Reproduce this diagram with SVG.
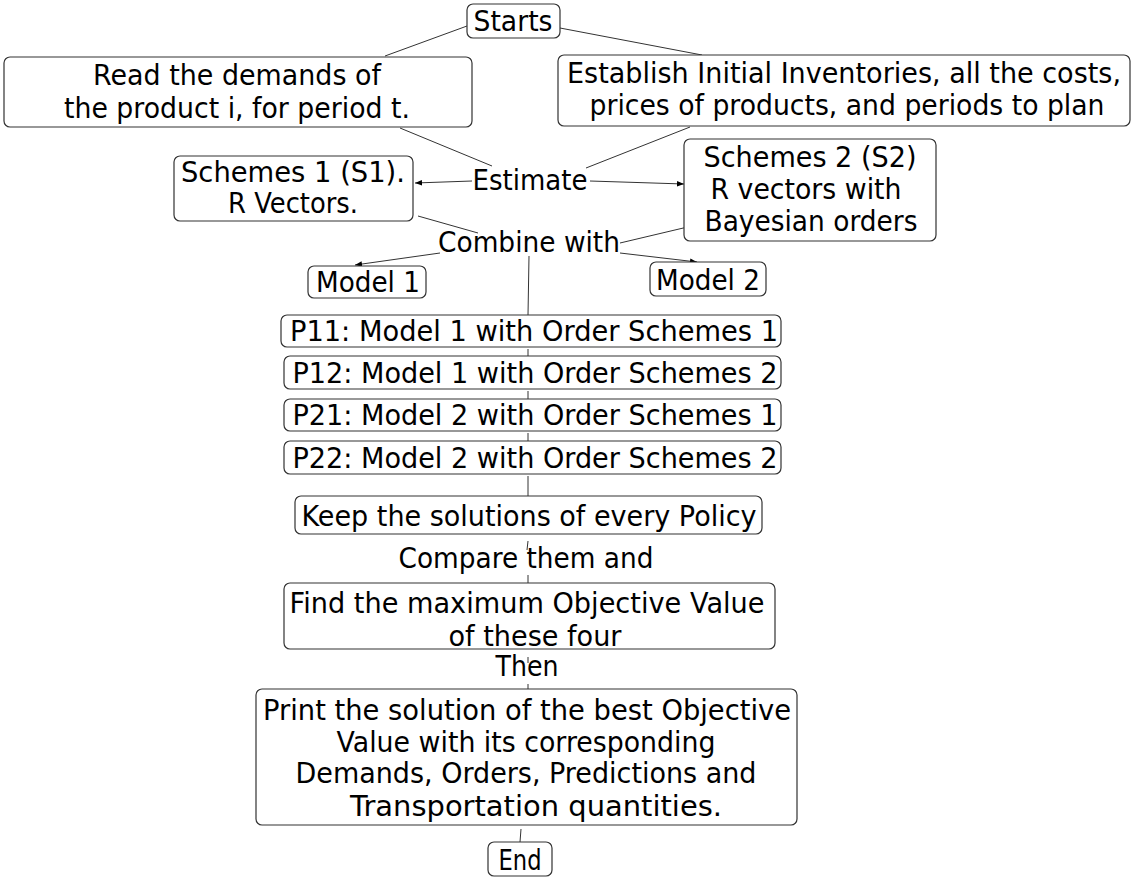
<svg xmlns="http://www.w3.org/2000/svg" width="1134" height="878" viewBox="0 0 1134 878">
<style>
.box{fill:#fff;stroke:#333;stroke-width:1.2}
.t{font-family:"DejaVu Sans",Verdana,sans-serif;font-size:27.5px;fill:#000;text-anchor:middle}
.ln{stroke:#333;stroke-width:1;fill:none}
</style>
<defs>
<marker id="ah" viewBox="0 0 10 10" refX="10" refY="5" markerWidth="7" markerHeight="7" orient="auto" markerUnits="userSpaceOnUse">
<path d="M0,1 L10,5 L0,9 z" fill="#000"/>
</marker>
</defs>
<rect width="1134" height="878" fill="#fff"/>
<g id="connectors">
<line class="ln" x1="467" y1="26" x2="385" y2="56"/>
<line class="ln" x1="560" y1="28" x2="702" y2="55"/>
<line class="ln" x1="400" y1="128" x2="492" y2="166"/>
<line class="ln" x1="690" y1="127" x2="586" y2="168"/>
<line class="ln" x1="472" y1="181" x2="415" y2="183" marker-end="url(#ah)"/>
<line class="ln" x1="590" y1="181" x2="684" y2="184" marker-end="url(#ah)"/>
<line class="ln" x1="418" y1="216" x2="478" y2="233"/>
<line class="ln" x1="696" y1="225" x2="620" y2="243"/>
<line class="ln" x1="440" y1="253" x2="355" y2="265" marker-end="url(#ah)"/>
<line class="ln" x1="620" y1="253" x2="697" y2="262" marker-end="url(#ah)"/>
<line class="ln" x1="529" y1="256" x2="528" y2="315"/>
<line class="ln" x1="528" y1="349" x2="528" y2="356"/>
<line class="ln" x1="528" y1="391" x2="528" y2="399"/>
<line class="ln" x1="528" y1="433" x2="528" y2="441"/>
<line class="ln" x1="528" y1="476" x2="528" y2="496"/>
<line class="ln" x1="528" y1="541" x2="527" y2="550"/>
<line class="ln" x1="528" y1="575" x2="528" y2="583"/>
<line class="ln" x1="528" y1="657" x2="528" y2="663"/>
<line class="ln" x1="528" y1="684" x2="528" y2="689"/>
<line class="ln" x1="521" y1="829" x2="520" y2="842"/>
</g>
<g id="starts"><rect class="box" x="467" y="4" width="93" height="34" rx="6"/><text class="t" x="513" y="31" textLength="79" lengthAdjust="spacingAndGlyphs">Starts</text></g>
<g id="read"><rect class="box" x="4" y="57" width="468" height="70" rx="6"/><text class="t" x="237" y="85" textLength="288" lengthAdjust="spacingAndGlyphs">Read the demands of</text><text class="t" x="237" y="118" textLength="346" lengthAdjust="spacingAndGlyphs">the product i, for period t.</text></g>
<g id="establish"><rect class="box" x="558" y="55" width="572" height="71" rx="6"/><text class="t" x="844" y="83" textLength="554" lengthAdjust="spacingAndGlyphs">Establish Initial Inventories, all the costs,</text><text class="t" x="847" y="115" textLength="515" lengthAdjust="spacingAndGlyphs">prices of products, and periods to plan</text></g>
<g id="estimate"><text class="t" x="530" y="190" textLength="115" lengthAdjust="spacingAndGlyphs">Estimate</text></g>
<g id="s1"><rect class="box" x="174" y="156" width="239" height="65" rx="6"/><text class="t" x="293" y="182" textLength="224" lengthAdjust="spacingAndGlyphs">Schemes 1 (S1).</text><text class="t" x="293" y="213" textLength="130" lengthAdjust="spacingAndGlyphs">R Vectors.</text></g>
<g id="s2"><rect class="box" x="684" y="139" width="252" height="102" rx="6"/><text class="t" x="810" y="167" textLength="213" lengthAdjust="spacingAndGlyphs">Schemes 2 (S2)</text><text class="t" x="806" y="199" textLength="191" lengthAdjust="spacingAndGlyphs">R vectors with</text><text class="t" x="811" y="231" textLength="213" lengthAdjust="spacingAndGlyphs">Bayesian orders</text></g>
<g id="combine"><text class="t" x="529" y="252" textLength="182" lengthAdjust="spacingAndGlyphs">Combine with</text></g>
<g id="model1"><rect class="box" x="308" y="266" width="118" height="32" rx="6"/><text class="t" x="368" y="292" textLength="104" lengthAdjust="spacingAndGlyphs">Model 1</text></g>
<g id="model2"><rect class="box" x="650" y="262" width="116" height="34" rx="6"/><text class="t" x="708" y="290" textLength="104" lengthAdjust="spacingAndGlyphs">Model 2</text></g>
<g id="p11"><rect class="box" x="281" y="315" width="500" height="32" rx="6"/><text class="t" x="534" y="341" textLength="488" lengthAdjust="spacingAndGlyphs">P11: Model 1 with Order Schemes 1</text></g>
<g id="p12"><rect class="box" x="284" y="356" width="497" height="33" rx="6"/><text class="t" x="535" y="383" textLength="485" lengthAdjust="spacingAndGlyphs">P12: Model 1 with Order Schemes 2</text></g>
<g id="p21"><rect class="box" x="284" y="399" width="497" height="32" rx="6"/><text class="t" x="535" y="425" textLength="485" lengthAdjust="spacingAndGlyphs">P21: Model 2 with Order Schemes 1</text></g>
<g id="p22"><rect class="box" x="284" y="441" width="497" height="33" rx="6"/><text class="t" x="535" y="468" textLength="485" lengthAdjust="spacingAndGlyphs">P22: Model 2 with Order Schemes 2</text></g>
<g id="keep"><rect class="box" x="295" y="496" width="467" height="38" rx="6"/><text class="t" x="529" y="526" textLength="455" lengthAdjust="spacingAndGlyphs">Keep the solutions of every Policy</text></g>
<g id="compare"><text class="t" x="526" y="568" textLength="255" lengthAdjust="spacingAndGlyphs">Compare them and</text></g>
<g id="find"><rect class="box" x="284" y="583" width="491" height="66" rx="6"/><text class="t" x="527" y="613" textLength="475" lengthAdjust="spacingAndGlyphs">Find the maximum Objective Value</text><text class="t" x="535" y="646" textLength="173" lengthAdjust="spacingAndGlyphs">of these four</text></g>
<g id="then"><text class="t" x="527" y="676" textLength="63" lengthAdjust="spacingAndGlyphs">Then</text></g>
<g id="print"><rect class="box" x="256" y="689" width="541" height="136" rx="6"/><text class="t" x="527" y="720" textLength="528" lengthAdjust="spacingAndGlyphs">Print the solution of the best Objective</text><text class="t" x="526" y="752" textLength="379" lengthAdjust="spacingAndGlyphs">Value with its corresponding</text><text class="t" x="526" y="783" textLength="461" lengthAdjust="spacingAndGlyphs">Demands, Orders, Predictions and</text><text class="t" x="536" y="816" textLength="372" lengthAdjust="spacingAndGlyphs">Transportation quantities.</text></g>
<g id="end"><rect class="box" x="488" y="842" width="64" height="34" rx="6"/><text class="t" x="520" y="870" textLength="43" lengthAdjust="spacingAndGlyphs">End</text></g>
</svg>
